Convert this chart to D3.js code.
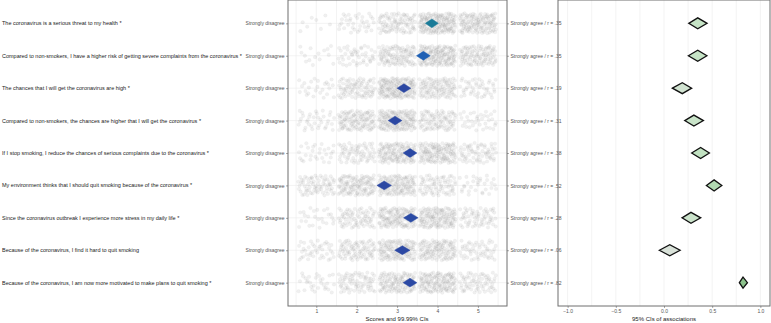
<!DOCTYPE html>
<html>
<head>
<meta charset="utf-8">
<script src="https://cdn.jsdelivr.net/npm/d3@7"></script>
<style>
  body { margin: 0; background: #fff; }
  svg { display: block; font-family: "Liberation Sans", Arial, sans-serif; }
</style>
</head>
<body>
<div id="chart"></div>
<script>
// Items (top to bottom)
const items = [
  "The coronavirus is a serious threat to my health *",
  "Compared to non-smokers, I have a higher risk of getting severe complaints from the coronavirus *",
  "The chances that I will get the coronavirus are high *",
  "Compared to non-smokers, the chances are higher that I will get the coronavirus *",
  "If I stop smoking, I reduce the chances of serious complaints due to the coronavirus *",
  "My environment thinks that I should quit smoking because of the coronavirus *",
  "Since the coronavirus outbreak I experience more stress in my daily life *",
  "Because of the coronavirus, I find it hard to quit smoking",
  "Because of the coronavirus, I am now more motivated to make plans to quit smoking *"
];

// Response counts per answer 1..5 (read roughly from the point clouds)
const counts = [
  [8, 35, 85, 150, 122],
  [15, 45, 100, 140, 100],
  [25, 80, 150, 100, 45],
  [35, 105, 140, 85, 35],
  [28, 65, 120, 125, 62],
  [70, 110, 120, 70, 30],
  [25, 70, 120, 125, 60],
  [40, 80, 120, 110, 50],
  [30, 70, 110, 125, 65]
];

// Means with 99.99% CIs
const means = [3.86, 3.65, 3.17, 2.95, 3.32, 2.68, 3.34, 3.13, 3.32];
const meanLo = [3.70, 3.48, 3.00, 2.78, 3.15, 2.50, 3.16, 2.94, 3.15];
const meanHi = [4.02, 3.82, 3.34, 3.12, 3.49, 2.86, 3.52, 3.32, 3.49];

// Associations (r) with 95% CIs
const rValues = [0.35, 0.35, 0.19, 0.31, 0.38, 0.52, 0.28, 0.06, 0.82];
const rLo = [0.257, 0.253, 0.087, 0.215, 0.287, 0.44, 0.187, -0.048, 0.782];
const rHi = [0.447, 0.445, 0.287, 0.409, 0.471, 0.60, 0.381, 0.167, 0.866];
const rLabels = [".35", ".35", ".19", ".31", ".38", ".52", ".28", ".06", ".82"];

const scoreTicks = [1, 2, 3, 4, 5];
const assocTicks = [-1.0, -0.5, 0.0, 0.5, 1.0];

const W = 771, H = 323;
const svg = d3.select("#chart").append("svg").attr("width", W).attr("height", H);

const yTop = 0, yBottom = 306;
const y = d3.scalePoint().domain(d3.range(items.length)).range([yTop, yBottom]).padding(0.72);
const step = y.step();

const xL = d3.scaleLinear().domain([0.3, 5.72]).range([288, 507]);
const xR = d3.scaleLinear().domain([-1.1, 1.1]).range([558, 770]);

// ---- left panel ----
const gl = svg.append("g");
gl.selectAll("line.vg").data(d3.range(0.5, 5.51, 0.5)).join("line")
  .attr("x1", d => xL(d)).attr("x2", d => xL(d))
  .attr("y1", yTop).attr("y2", yBottom)
  .attr("stroke", "#ebebeb").attr("stroke-width", 0.6);
gl.selectAll("line.hg").data(d3.range(items.length)).join("line")
  .attr("x1", xL.range()[0]).attr("x2", xL.range()[1])
  .attr("y1", d => y(d)).attr("y2", d => y(d))
  .attr("stroke", "#ebebeb").attr("stroke-width", 0.6);

// jittered raw answers (deterministic halton layout)
function halton(i, b) {
  let f = 1, r = 0;
  while (i > 0) { f /= b; r += f * (i % b); i = Math.floor(i / b); }
  return r;
}
const pts = [];
counts.forEach((row, ri) => {
  let k = ri * 997 + 1;
  row.forEach((c, li) => {
    for (let j = 0; j < c; j++, k++) {
      pts.push({
        x: xL(li + 1 + (halton(k, 2) - 0.5) * 0.9),
        y: y(ri) + (halton(k, 3) - 0.5) * step * 0.62
      });
    }
  });
});
gl.selectAll("circle.pt").data(pts).join("circle")
  .attr("cx", d => d.x).attr("cy", d => d.y).attr("r", 1.8)
  .attr("fill", "#777").attr("fill-opacity", 0.11)
  .attr("stroke", "#777").attr("stroke-opacity", 0.07).attr("stroke-width", 0.5);

const meanColor = d3.scaleLinear().domain([3.3, 3.65, 3.86])
  .range(["#2c48a3", "#1f60b4", "#1a7b98"]).clamp(true);
const dh = 4.4;
gl.selectAll("path.md").data(means).join("path")
  .attr("d", (d, i) => {
    const cy = y(i);
    return `M${xL(meanLo[i])},${cy}L${xL(d)},${cy - dh}L${xL(meanHi[i])},${cy}L${xL(d)},${cy + dh}Z`;
  })
  .attr("fill", d => meanColor(d)).attr("stroke", d => meanColor(d)).attr("stroke-width", 0.5);

// frame
gl.append("rect").attr("x", 288).attr("y", yTop).attr("width", 507 - 288).attr("height", yBottom - yTop)
  .attr("fill", "none").attr("stroke", "#6f6f6f").attr("stroke-width", 1);

function styleAxis(g) {
  g.select(".domain").remove();
  g.selectAll(".tick line").attr("stroke", "#555").attr("stroke-width", 0.5);
  g.selectAll(".tick text").attr("fill", "#555").attr("font-size", 5);
}
svg.append("g").attr("transform", `translate(0,${yBottom})`)
  .call(d3.axisBottom(xL).tickValues(scoreTicks).tickFormat(d3.format("d")).tickSize(2).tickPadding(1.2))
  .call(styleAxis);
svg.append("g").attr("transform", "translate(288,0)")
  .call(d3.axisLeft(y).tickFormat(() => "Strongly disagree").tickSize(2).tickPadding(1.5))
  .call(styleAxis);
svg.append("g").attr("transform", "translate(507,0)")
  .call(d3.axisRight(y).tickFormat(i => `Strongly agree / r = ${rLabels[i]}`).tickSize(2).tickPadding(1.5))
  .call(styleAxis);

// item labels
svg.selectAll("text.item").data(items).join("text")
  .attr("x", 2).attr("y", (d, i) => y(i)).attr("dy", "0.35em")
  .attr("font-size", 5.5).attr("fill", "#222").text(d => d);

svg.append("text").attr("x", xL(3)).attr("y", 321).attr("text-anchor", "middle")
  .attr("font-size", 6).attr("fill", "#222").text("Scores and 99.99% CIs");

// ---- right panel ----
const gr = svg.append("g");
gr.selectAll("line.vg").data(d3.range(-1, 1.01, 0.25)).join("line")
  .attr("x1", d => xR(d)).attr("x2", d => xR(d))
  .attr("y1", yTop).attr("y2", yBottom)
  .attr("stroke", "#ebebeb").attr("stroke-width", 0.6);

const rColor = d3.scaleLinear().domain([0, 0.35, 0.82])
  .range(["#dde1dd", "#c6e4c6", "#8dc38d"]);
const rh = 5.5;
gr.selectAll("path.rd").data(rValues).join("path")
  .attr("d", (d, i) => {
    const cy = y(i);
    return `M${xR(rLo[i])},${cy}L${xR(d)},${cy - rh}L${xR(rHi[i])},${cy}L${xR(d)},${cy + rh}Z`;
  })
  .attr("fill", d => rColor(d)).attr("stroke", "#111").attr("stroke-width", 1.3)
  .attr("stroke-linejoin", "miter");

gr.append("rect").attr("x", 558).attr("y", yTop).attr("width", 770 - 558).attr("height", yBottom - yTop)
  .attr("fill", "none").attr("stroke", "#6f6f6f").attr("stroke-width", 1);

svg.append("g").attr("transform", `translate(0,${yBottom})`)
  .call(d3.axisBottom(xR).tickValues(assocTicks).tickFormat(d3.format(".1f")).tickSize(2).tickPadding(1.2))
  .call(styleAxis);

svg.append("text").attr("x", xR(0)).attr("y", 321).attr("text-anchor", "middle")
  .attr("font-size", 6).attr("fill", "#222").text("95% CIs of associations");
</script>
</body>
</html>
